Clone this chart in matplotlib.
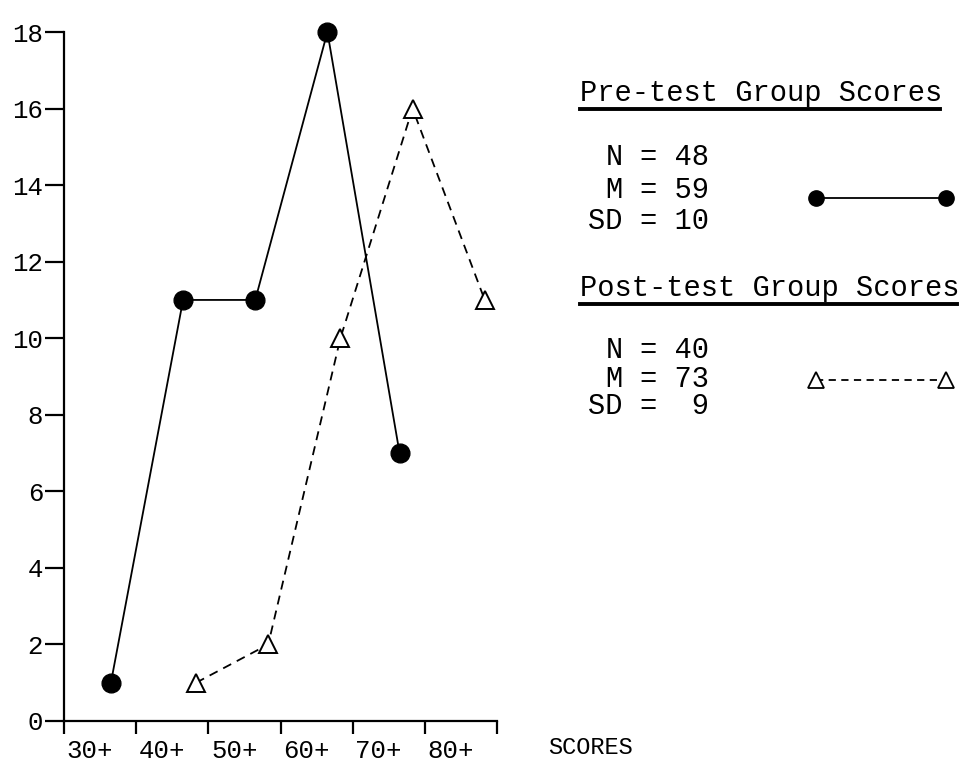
import matplotlib
matplotlib.use("Agg")
import matplotlib.pyplot as plt
from matplotlib.lines import Line2D

# score classes (lower bound of each class interval)
class_lower = [30, 40, 50, 60, 70, 80]
class_labels = ["30+", "40+", "50+", "60+", "70+", "80+"]

pre_lower = [30, 40, 50, 60, 70]
pre_freq = [1, 11, 11, 18, 7]

post_lower = [40, 50, 60, 70, 80]
post_freq = [1, 2, 10, 16, 11]

y_ticks = [0, 2, 4, 6, 8, 10, 12, 14, 16, 18]

pre_stats = [("N", "48"), ("M", "59"), ("SD", "10")]
post_stats = [("N", "40"), ("M", "73"), ("SD", " 9")]

FONT = "Liberation Mono"
plt.rcParams["font.family"] = [FONT, "DejaVu Sans Mono"]

W, H = 959, 775
fig = plt.figure(figsize=(W / 100, H / 100), dpi=100)
fig.patch.set_facecolor("white")

ax = fig.add_axes([64 / W, 1 - 721 / H, (497 - 64) / W, (721 - 32) / H])
ax.set_xlim(30, 90)
ax.set_ylim(0, 18)
for s in ["top", "right"]:
    ax.spines[s].set_visible(False)
for s in ["left", "bottom"]:
    ax.spines[s].set_linewidth(1.6)

# class boundaries as plain ticks, labels a bit right of each boundary
ax.set_xticks(class_lower + [90])
ax.set_xticklabels([])
ax.tick_params(axis="x", which="major", direction="out", length=9, width=1.6)
ax.set_xticks([v + 3.6 for v in class_lower], minor=True)
ax.set_xticklabels(class_labels, minor=True, fontsize=18.5)
ax.tick_params(axis="x", which="minor", length=0, pad=13)

ax.set_yticks(y_ticks)
ax.set_yticklabels([str(v) for v in y_ticks], fontsize=18.5)
ax.tick_params(axis="y", direction="out", length=14, width=1.6, pad=1)

ax.plot([v + 6.5 for v in pre_lower], pre_freq, color="black", lw=1.3,
        marker="o", markersize=13.5, markerfacecolor="black", clip_on=False, zorder=3)
ax.plot([v + 8.3 for v in post_lower], post_freq, color="black", lw=1.3,
        ls=(0, (5, 3.5)), marker="^", markersize=13, markerfacecolor="white",
        markeredgewidth=1.4, clip_on=False, zorder=3)

fig.text(548 / W, 1 - 748 / H, "SCORES", fontsize=17, va="center", ha="left")

# legend block drawn in pixel coordinates
lg = fig.add_axes([0, 0, 1, 1], facecolor="none")
lg.set_xlim(0, W)
lg.set_ylim(H, 0)
lg.axis("off")


def legend_block(title, title_y, x_end, stats, stat_ys, key_y, style):
    lg.text(580, title_y, title, fontsize=20.7, ha="left", va="center")
    lg.add_line(Line2D([580, x_end], [title_y + 16, title_y + 16], color="black", lw=2.8))
    for (k, v), y in zip(stats, stat_ys):
        lg.text(640, y, k + " ", fontsize=20.7, ha="right", va="center")
        lg.text(640, y, "= " + v, fontsize=20.7, ha="left", va="center")
    lg.plot([816, 946], [key_y, key_y], color="black", **style)


legend_block("Pre-test Group Scores", 93, 940, pre_stats, [157, 190, 221], 198,
             dict(lw=1.3, marker="o", markersize=11, markerfacecolor="black"))
legend_block("Post-test Group Scores", 288, 957, post_stats, [350, 379, 406], 380,
             dict(lw=1.3, ls=(0, (4, 3)), marker="^", markersize=11,
                  markerfacecolor="white", markeredgewidth=1.3))

fig.savefig("out.png", dpi=100)
